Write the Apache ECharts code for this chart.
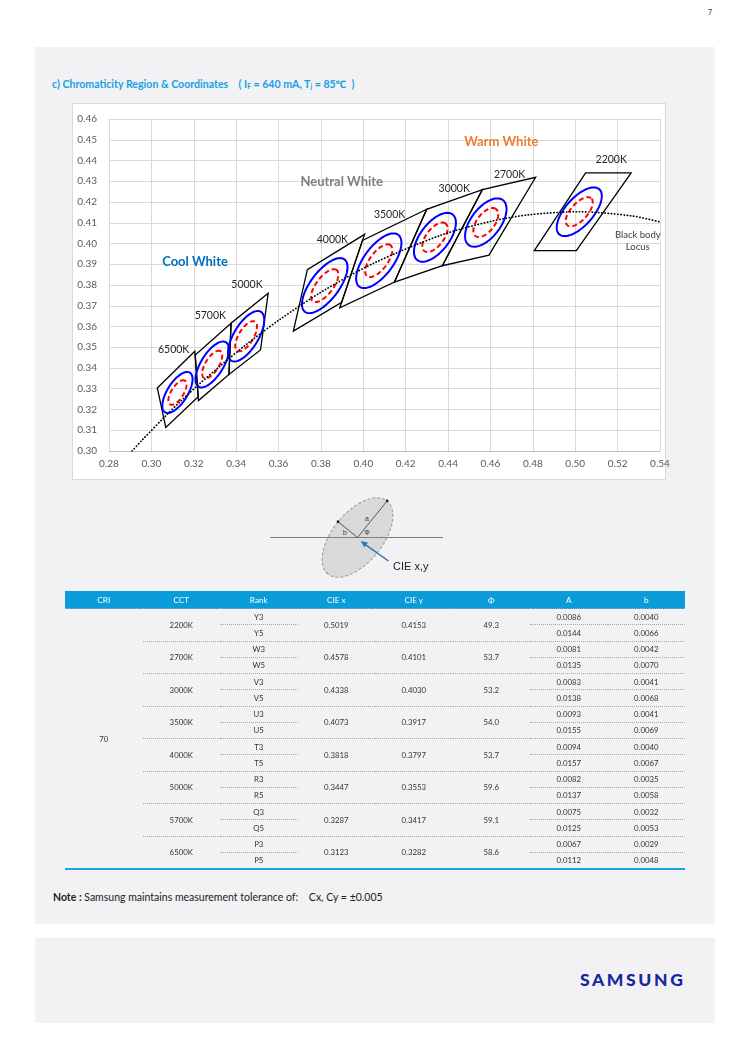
<!DOCTYPE html>
<html><head><meta charset="utf-8">
<script src="https://cdn.jsdelivr.net/npm/echarts@6/dist/echarts.min.js"></script>
<style>
body{margin:0;width:750px;height:1061px;background:#fff;position:relative;font-family:Lato,'Noto Sans',sans-serif;overflow:hidden;color:#333}
.panel{position:absolute;left:35px;width:680px;background:#f2f2f4}
#pn{position:absolute;left:708px;top:8px;font-size:7px;color:#333}
#title{position:absolute;left:52px;top:77px;font-size:10.6px;font-weight:bold;color:#19a0e3;white-space:pre}
#title sub{font-size:6.5px;vertical-align:-1px}
#frame{position:absolute;left:72px;top:103px;width:592px;height:375px;background:#fff;border:1px solid #d9d9d9}
#chart{position:absolute;left:0;top:0;width:750px;height:600px}
#tbl{position:absolute;left:65px;top:591px;width:620px;border-collapse:collapse;table-layout:fixed;font-size:7.8px;color:#333;border-bottom:2px solid #1aa3e0}
#tbl th{background:#0a9bd9;color:#fff;font-weight:normal;height:17px;padding:0;font-size:8.2px;border-bottom:1px dotted #a6a6a6}
#tbl td{padding:0;height:15.25px;text-align:center;line-height:10px}
#tbl td.s{border-bottom:1px dotted #a6a6a6}
#tbl td.g{border-bottom:1px dotted #a6a6a6}
#note{position:absolute;left:53px;top:891px;font-size:10.5px;color:#222;white-space:pre}
#logo{position:absolute;left:580px;top:969px;font-size:17.5px;font-weight:900;color:#1428a0;letter-spacing:2.6px}
</style></head>
<body>
<div class="panel" style="top:47px;height:877px"></div>
<div class="panel" style="top:938px;height:85px"></div>
<div id="pn">7</div>
<div id="title">c) Chromaticity Region &amp; Coordinates    ( I<sub>F</sub> = 640 mA, T<sub>j</sub> = 85℃  )</div>
<div id="frame"></div>
<div id="chart"></div>
<table id="tbl"><colgroup><col><col><col><col><col><col><col><col></colgroup><tbody id="tb"></tbody></table>
<div id="note"><b>Note :</b> Samsung maintains measurement tolerance of:    Cx, Cy = ±0.005</div>
<div id="logo">SAMSUNG</div>
<script>
// ---------- data ----------
const cri = '70';
const cct = ['2200K','2700K','3000K','3500K','4000K','5000K','5700K','6500K'];
const rank3 = ['Y3','W3','V3','U3','T3','R3','Q3','P3'];
const rank5 = ['Y5','W5','V5','U5','T5','R5','Q5','P5'];
const cieX = [0.5019,0.4578,0.4338,0.4073,0.3818,0.3447,0.3287,0.3123];
const cieY = [0.4153,0.4101,0.4030,0.3917,0.3797,0.3553,0.3417,0.3282];
const phi  = [49.3,53.7,53.2,54.0,53.7,59.6,59.1,58.6];
const a3 = [0.0086,0.0081,0.0083,0.0093,0.0094,0.0082,0.0075,0.0067];
const b3 = [0.0040,0.0042,0.0041,0.0041,0.0040,0.0035,0.0032,0.0029];
const a5 = [0.0144,0.0135,0.0138,0.0155,0.0157,0.0137,0.0125,0.0112];
const b5 = [0.0066,0.0070,0.0068,0.0069,0.0067,0.0058,0.0053,0.0048];
// quadrangle corners (x list, y list) per CCT
const quadX = [
 [0.4807,0.5049,0.5264,0.5005],
 [0.4373,0.4562,0.4813,0.4593],
 [0.4147,0.4299,0.4562,0.4373],
 [0.3889,0.3996,0.4299,0.4147],
 [0.3670,0.3736,0.4006,0.3898],
 [0.3366,0.3376,0.3551,0.3515],
 [0.3222,0.3207,0.3376,0.3366],
 [0.3068,0.3028,0.3205,0.3221]];
const quadY = [
 [0.3966,0.4340,0.4340,0.3966],
 [0.3893,0.4260,0.4319,0.3944],
 [0.3814,0.4165,0.4260,0.3893],
 [0.3690,0.4015,0.4165,0.3814],
 [0.3578,0.3874,0.4044,0.3716],
 [0.3369,0.3616,0.3760,0.3487],
 [0.3243,0.3462,0.3616,0.3369],
 [0.3113,0.3304,0.3481,0.3261]];
// black body locus
const locusX = [0.2909,0.2952,0.3064,0.3135,0.3221,0.3325,0.3451,0.3608,0.3805,0.4053,0.4369,0.4599,0.4770,0.5018,0.5266,0.5400];
const locusY = [0.3000,0.3048,0.3166,0.3237,0.3318,0.3410,0.3516,0.3635,0.3768,0.3907,0.4041,0.4106,0.4137,0.4153,0.4133,0.4104];
const xTicks = {min:0.28, max:0.54, step:0.02};
const yTicks = {min:0.30, max:0.46, step:0.01};

// ---------- table ----------
let h = '<tr><th>CRI</th><th>CCT</th><th>Rank</th><th>CIE x</th><th>CIE y</th><th>Φ</th><th>A</th><th>b</th></tr>';
cct.forEach((c,i)=>{
  const last = i===cct.length-1;
  const g = last ? '' : 'g';
  h += '<tr>' + (i===0?'<td rowspan="16">'+cri+'</td>':'') +
    '<td rowspan="2" class="'+g+'">'+c+'</td><td class="s">'+rank3[i]+'</td>' +
    '<td rowspan="2" class="'+g+'">'+cieX[i].toFixed(4)+'</td><td rowspan="2" class="'+g+'">'+cieY[i].toFixed(4)+'</td>' +
    '<td rowspan="2" class="'+g+'">'+phi[i].toFixed(1)+'</td><td class="s">'+a3[i].toFixed(4)+'</td><td class="s">'+b3[i].toFixed(4)+'</td></tr>';
  h += '<tr><td class="'+g+'">'+rank5[i]+'</td><td class="'+g+'">'+a5[i].toFixed(4)+'</td><td class="'+g+'">'+b5[i].toFixed(4)+'</td></tr>';
});
document.getElementById('tb').innerHTML = h;

// ---------- chart ----------
const FF = 'Lato, "Noto Sans", sans-serif';
const chart = echarts.init(document.getElementById('chart'), null, {renderer:'canvas'});

function ellipseSeries(aArr, bArr, color, dash){
  return {
    type:'custom', silent:true, z:4,
    data: cieX.map((x,i)=>[x, cieY[i], phi[i], aArr[i], bArr[i]]),
    renderItem:(params, api)=>{
      const cx=api.value(0), cy=api.value(1), ph=api.value(2)*Math.PI/180, a=api.value(3), b=api.value(4);
      const pts=[];
      for(let k=0;k<=90;k++){
        const t=k/90*2*Math.PI, ex=a*Math.cos(t), ey=b*Math.sin(t);
        pts.push(api.coord([cx+ex*Math.cos(ph)-ey*Math.sin(ph), cy+ex*Math.sin(ph)+ey*Math.cos(ph)]));
      }
      return {type:'polygon', shape:{points:pts}, style:{fill:'none', stroke:color, lineWidth:2, lineDash:dash||null}};
    }
  };
}

const labels = [
  {t:'Warm White', x:0.4651, y:0.4492, c:'#ED7D31', s:13, w:'bold'},
  {t:'Neutral White', x:0.3898, y:0.4298, c:'#7F7F7F', s:13, w:'bold'},
  {t:'Cool White', x:0.3206, y:0.3912, c:'#0070C0', s:13, w:'bold'},
  {t:'2200K', x:0.5170, y:0.4402, c:'#262626', s:10.5, w:'normal'},
  {t:'2700K', x:0.4690, y:0.4332, c:'#262626', s:10.5, w:'normal'},
  {t:'3000K', x:0.4429, y:0.4266, c:'#262626', s:10.5, w:'normal'},
  {t:'3500K', x:0.4124, y:0.4139, c:'#262626', s:10.5, w:'normal'},
  {t:'4000K', x:0.3854, y:0.4018, c:'#262626', s:10.5, w:'normal'},
  {t:'5000K', x:0.3451, y:0.3803, c:'#262626', s:10.5, w:'normal'},
  {t:'5700K', x:0.3278, y:0.3654, c:'#262626', s:10.5, w:'normal'},
  {t:'6500K', x:0.3105, y:0.3490, c:'#262626', s:10.5, w:'normal'},
  {t:'Black body\nLocus', x:0.5295, y:0.4012, c:'#404040', s:9.5, w:'normal'}
];

const axLbl = {color:'#595959', fontSize:10, fontFamily:FF, formatter:v=>v.toFixed(2)};
const ARAD = 51*Math.PI/180;
const dc = [357.5,537.5], ra = 47, rb = 25;
const aEnd = [dc[0]+ra*Math.cos(ARAD), dc[1]-ra*Math.sin(ARAD)];
const bEnd = [dc[0]-rb*Math.sin(ARAD), dc[1]-rb*Math.cos(ARAD)];

chart.setOption({
  animation:false,
  backgroundColor:'transparent',
  textStyle:{fontFamily:FF},
  grid:{left:109, top:119, width:551, height:332, containLabel:false},
  xAxis:{type:'value', min:xTicks.min, max:xTicks.max, interval:xTicks.step,
    axisLine:{show:true, lineStyle:{color:'#bfbfbf', width:1}}, axisTick:{show:false},
    axisLabel:Object.assign({margin:8}, axLbl),
    splitLine:{show:true, lineStyle:{color:'#d9d9d9', width:1}}},
  yAxis:{type:'value', min:yTicks.min, max:yTicks.max, interval:yTicks.step,
    axisLine:{show:true, lineStyle:{color:'#d9d9d9', width:1}}, axisTick:{show:false},
    axisLabel:Object.assign({margin:12}, axLbl),
    splitLine:{show:true, lineStyle:{color:'#d9d9d9', width:1}}},
  series:[
    {type:'custom', silent:true, z:3,
     data: cct.map((c,i)=>[quadX[i][0], quadY[i][0], i]),
     renderItem:(params, api)=>{
       const i = api.value(2);
       const pts = quadX[i].map((x,k)=>api.coord([x, quadY[i][k]]));
       return {type:'polygon', shape:{points:pts}, style:{fill:'none', stroke:'#000', lineWidth:1.3}};
     }},
    ellipseSeries(a5, b5, '#0000FF'),
    ellipseSeries(a3, b3, '#FF0000', [5,3]),
    {type:'line', silent:true, z:6, smooth:0.3, showSymbol:false, symbol:'none',
     data: locusX.map((x,i)=>[x, locusY[i]]),
     lineStyle:{color:'#000', width:1.7, type:[0.3,2.9], cap:'round'}},
    {type:'custom', silent:true, z:7,
     data: labels.map((l,i)=>[l.x, l.y, i]),
     renderItem:(params, api)=>{
       const l = labels[api.value(2)];
       const p = api.coord([l.x, l.y]);
       return {type:'text', x:p[0], y:p[1], style:{text:l.t, fill:l.c, fontSize:l.s, fontWeight:l.w, fontFamily:FF, align:'center', verticalAlign:'middle', lineHeight:12}};
     }}
  ],
  graphic:[
    {type:'ellipse', x:dc[0], y:dc[1], rotation:ARAD, shape:{cx:0, cy:0, rx:ra, ry:rb},
     style:{fill:'#d9d9d9', stroke:'#999', lineWidth:1, lineDash:[3,2]}},
    {type:'line', shape:{x1:270, y1:dc[1], x2:443, y2:dc[1]}, style:{stroke:'#808080', lineWidth:1}},
    {type:'line', shape:{x1:dc[0], y1:dc[1], x2:aEnd[0], y2:aEnd[1]}, style:{stroke:'#555', lineWidth:1}},
    {type:'line', shape:{x1:dc[0], y1:dc[1], x2:bEnd[0], y2:bEnd[1]}, style:{stroke:'#555', lineWidth:1}},
    {type:'circle', shape:{cx:aEnd[0], cy:aEnd[1], r:1.4}, style:{fill:'#222'}},
    {type:'circle', shape:{cx:bEnd[0], cy:bEnd[1], r:1.4}, style:{fill:'#222'}},
    {type:'text', x:367, y:519, style:{text:'a', fontSize:7, fill:'#333', align:'center', verticalAlign:'middle', fontFamily:'Liberation Sans'}},
    {type:'text', x:345, y:533, style:{text:'b', fontSize:7, fill:'#333', align:'center', verticalAlign:'middle', fontFamily:'Liberation Sans'}},
    {type:'text', x:367, y:533, style:{text:'Φ', fontSize:7, fill:'#333', align:'center', verticalAlign:'middle', fontFamily:'Liberation Sans'}},
    {type:'line', shape:{x1:388.5, y1:561, x2:364, y2:543.6}, style:{stroke:'#2e75b6', lineWidth:1.5}},
    {type:'polygon', shape:{points:[[360.5,541],[367.9,542.6],[364.5,547.5]]}, style:{fill:'#2e75b6'}},
    {type:'text', x:393, y:567, style:{text:'CIE x,y', fontSize:11, fill:'#222', align:'left', verticalAlign:'middle', fontFamily:'Liberation Sans'}}
  ]
});
</script>
</body></html>
